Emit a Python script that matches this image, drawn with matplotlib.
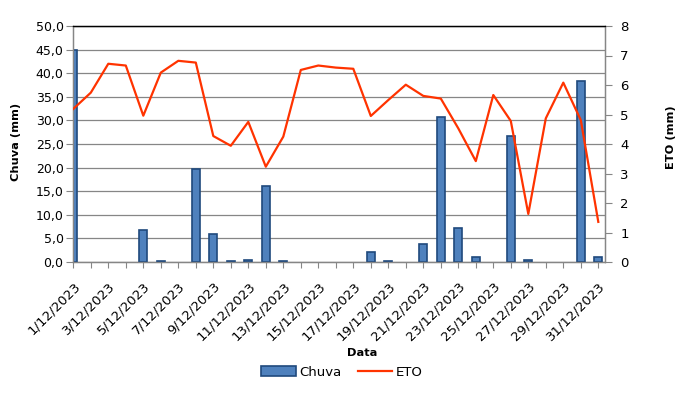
import matplotlib
matplotlib.use("Agg")
import matplotlib.pyplot as plt
import numpy as np
from matplotlib.ticker import FuncFormatter, MultipleLocator
from matplotlib.patches import Patch
from matplotlib.lines import Line2D

days = list(range(1, 32))
date_labels = [f"{d}/12/2023" for d in days]
chuva = [45.0, 0, 0, 0, 6.8, 0.3, 0, 19.8, 6.0, 0.3, 0.5, 16.2, 0.3, 0, 0, 0,
         0, 2.2, 0.3, 0, 3.9, 30.8, 7.1, 1.1, 0, 26.6, 0.5, 0, 0, 38.3, 1.1]
eto = [5.19, 5.74, 6.72, 6.66, 4.96, 6.42, 6.82, 6.76, 4.27, 3.94, 4.75, 3.23,
       4.25, 6.51, 6.66, 6.59, 6.55, 4.95, 5.49, 6.01, 5.63, 5.54, 4.53, 3.42,
       5.66, 4.78, 1.63, 4.87, 6.08, 4.81, 1.36]

plt.rcParams['font.family'] = ['DejaVu Sans']

W, H = 685, 401
fig = plt.figure(figsize=(W/100, H/100), dpi=100)
L, R, T, B = 73.3, 605, 26, 262
ax = fig.add_axes([L/W, 1-B/H, (R-L)/W, (B-T)/H])
ax2 = ax.twinx()

x = np.arange(len(days))
c = np.array(chuva)
mask = c > 0
ax.bar(x[mask], c[mask], width=0.46, color='#4F81BD', edgecolor='#1F497D',
       linewidth=1.2, zorder=3)
ax.set_ylim(0, 50)
ax.yaxis.set_major_locator(MultipleLocator(5))
ax.yaxis.set_major_formatter(FuncFormatter(lambda v, p: f"{v:.1f}".replace('.', ',')))
ax.grid(axis='y', color='#868686', linewidth=0.9, zorder=0)
ax.set_axisbelow(True)
ax.set_xlim(0, (R-L)/17.5)
ax.set_xticks(x)
ax.set_xticklabels([lab if i % 2 == 0 else '' for i, lab in enumerate(date_labels)],
                   rotation=45, ha='right', va='top', rotation_mode='anchor', fontsize=9.5)
ax.tick_params(axis='x', length=4, color='#868686', pad=8.5)
ax.tick_params(axis='y', length=5, color='#868686', labelsize=9, pad=2)

ax2.plot(x, eto, color='#FF3300', linewidth=1.6, zorder=4)
ax2.set_ylim(0, 8)
ax2.set_yticks(range(0, 9))
ax2.tick_params(axis='y', length=5, color='#868686', labelsize=9.5, pad=6)

for a in (ax, ax2):
    for s in ('left', 'right', 'bottom'):
        a.spines[s].set_color('#868686')
        a.spines[s].set_linewidth(0.9)
    a.spines['top'].set_color('black')
    a.spines['top'].set_linewidth(0.9)

fig.text(16/W, 1-142/H, 'Chuva (mm)', rotation=90, ha='center', va='center',
         fontsize=8.2, fontweight='bold')
fig.text(671/W, 1-137/H, 'ETO (mm)', rotation=90, ha='center', va='center',
         fontsize=8.2, fontweight='bold')
fig.text(362/W, 1-353/H, 'Data', ha='center', va='center', fontsize=8.2,
         fontweight='bold')

handles = [Patch(facecolor='#4F81BD', edgecolor='#1F497D', linewidth=1.2),
           Line2D([0], [0], color='#FF3300', linewidth=1.6)]
fig.legend(handles, ['Chuva', 'ETO'], loc='center', bbox_to_anchor=(342/W, 1-372/H),
           ncol=2, frameon=False, fontsize=9.5, handlelength=2.6, handleheight=0.7,
           columnspacing=1.2, handletextpad=0.3)

fig.savefig('out.png', dpi=100)
